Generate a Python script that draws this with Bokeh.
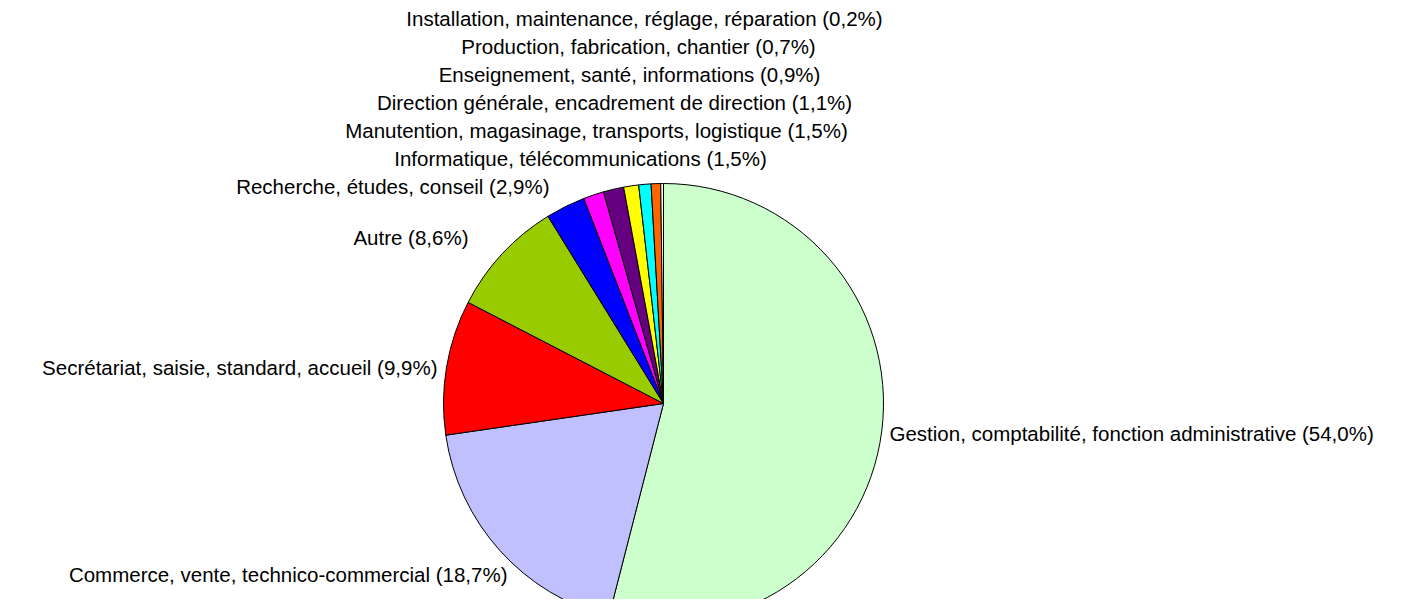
from math import pi
from bokeh.plotting import figure
from bokeh.models import Range1d, ColumnDataSource
from bokeh.core.properties import value
from bokeh.embed import file_html
from bokeh.resources import INLINE

# ---- data ----
categories = [
    "Gestion, comptabilité, fonction administrative",
    "Commerce, vente, technico-commercial",
    "Secrétariat, saisie, standard, accueil",
    "Autre",
    "Recherche, études, conseil",
    "Informatique, télécommunications",
    "Manutention, magasinage, transports, logistique",
    "Direction générale, encadrement de direction",
    "Enseignement, santé, informations",
    "Production, fabrication, chantier",
    "Installation, maintenance, réglage, réparation",
]
shares = [54.0, 18.7, 9.9, 8.6, 2.9, 1.5, 1.5, 1.1, 0.9, 0.7, 0.2]
colors = ["#CCFFCC", "#C0C0FF", "#FF0000", "#99CC00", "#0000FF", "#FF00FF",
          "#660080", "#FFFF00", "#00FFFF", "#FF6600", "#FFFFCC"]

# ---- layout (screen pixels) ----
CX, CY, R = 663, 403, 220
# label anchor: (x, baseline y, align)
label_layout = [
    (889, 433, "left"),
    (507, 574, "right"),
    (437, 367, "right"),
    (468, 237, "right"),
    (549, 186, "right"),
    (580, 158, "center"),
    (596, 130, "center"),
    (614, 102, "center"),
    (629, 74, "center"),
    (638, 46, "center"),
    (644, 18, "center"),
]

W, H = 1387, 599
total = sum(shares)
starts, ends = [], []
cum = 0.0
for s in shares:
    starts.append(pi / 2 - 2 * pi * cum / total)
    cum += s
    ends.append(pi / 2 - 2 * pi * cum / total)

src = ColumnDataSource(dict(start=starts, end=ends, color=colors))

p = figure(width=W, height=H, output_backend="svg", toolbar_location=None,
           x_range=Range1d(0, W), y_range=Range1d(-H, 0),
           min_border=0, outline_line_color=None)
p.axis.visible = False
p.grid.visible = False
p.background_fill_color = "white"
p.border_fill_color = "white"

p.wedge(x=CX, y=-CY, radius=R, start_angle="start", end_angle="end",
        direction="clock", fill_color="color", line_color="black",
        line_width=1, source=src)

def fmt(v):
    return f"{v:.1f}".replace(".", ",")

for name, v, (lx, ly, al) in zip(categories, shares, label_layout):
    p.text(x=[lx], y=[-ly], text=[f"{name} ({fmt(v)}%)"],
           text_font=value("Liberation Sans"), text_font_size="20.5px",
           text_align=al, text_baseline="alphabetic", text_color="black")

open("out.html", "w").write(file_html(p, INLINE))
